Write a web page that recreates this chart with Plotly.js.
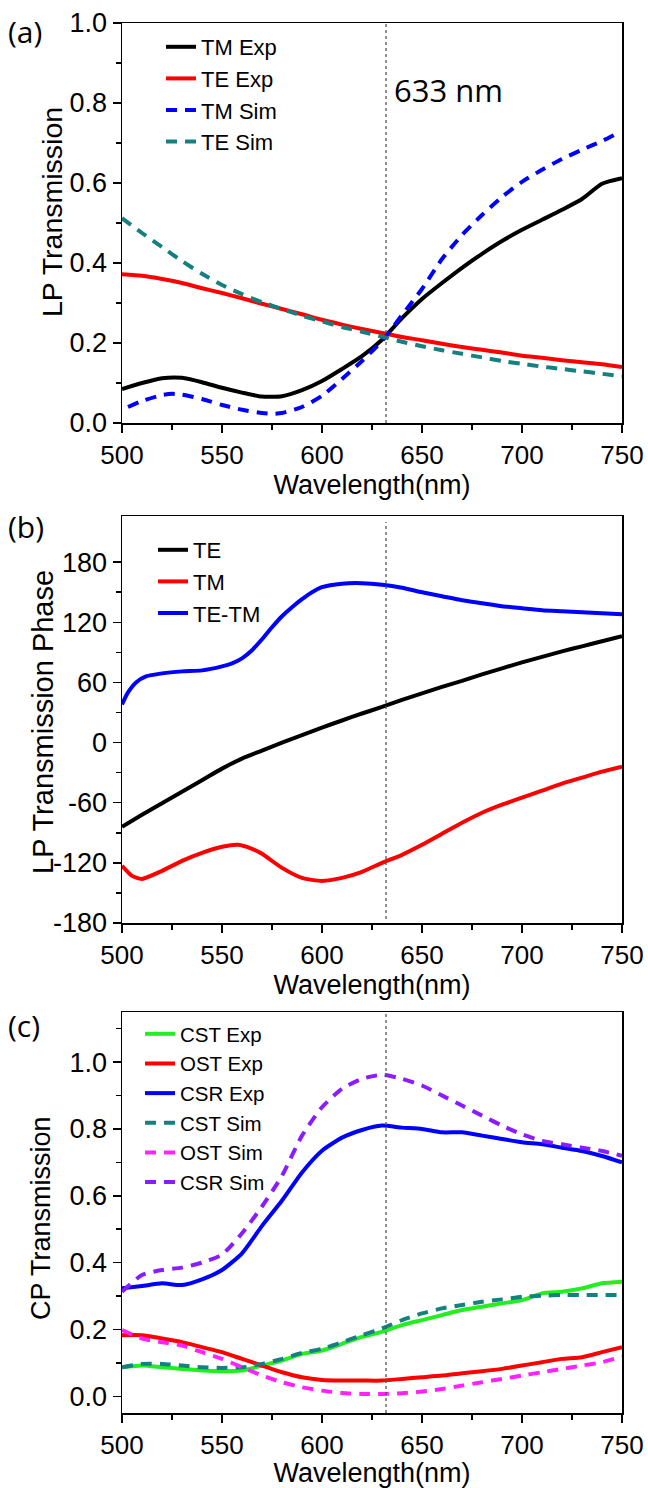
<!DOCTYPE html>
<html>
<head>
<meta charset="utf-8">
<script src="https://cdn.plot.ly/plotly-3.0.1.min.js"></script>
<style>
  html, body { margin: 0; padding: 0; background: #ffffff; }
  #chart { width: 648px; height: 1488px; }
</style>
</head>
<body>
<div id="chart"></div>
<script>
// ---------------- Panel (a): LP transmission ----------------
const wlA = [500, 510, 520, 530, 540, 550, 560, 570, 580, 590, 600, 610, 620, 630, 640, 650, 660, 670, 680, 690, 700, 710, 720, 730, 740, 750];
const tmExpA = [0.085, 0.100, 0.112, 0.113, 0.102, 0.088, 0.076, 0.066, 0.067, 0.082, 0.105, 0.135, 0.167, 0.208, 0.262, 0.310, 0.350, 0.388, 0.423, 0.455, 0.483, 0.508, 0.533, 0.560, 0.598, 0.612];
const teExpA = [0.372, 0.368, 0.360, 0.350, 0.337, 0.325, 0.312, 0.298, 0.285, 0.272, 0.258, 0.246, 0.235, 0.225, 0.215, 0.207, 0.198, 0.190, 0.183, 0.176, 0.168, 0.163, 0.157, 0.152, 0.147, 0.140];
const wlTmSimA = [503, 510, 520, 525, 530, 540, 550, 560, 570, 575, 580, 590, 600, 610, 620, 630, 640, 650, 660, 670, 680, 690, 700, 710, 720, 730, 740, 748];
const tmSimA = [0.040, 0.055, 0.070, 0.073, 0.071, 0.060, 0.045, 0.033, 0.025, 0.023, 0.025, 0.040, 0.068, 0.110, 0.155, 0.205, 0.270, 0.335, 0.410, 0.470, 0.520, 0.565, 0.603, 0.633, 0.660, 0.683, 0.705, 0.725];
const teSimA = [0.512, 0.475, 0.440, 0.405, 0.373, 0.345, 0.322, 0.302, 0.285, 0.268, 0.254, 0.240, 0.228, 0.216, 0.203, 0.192, 0.182, 0.173, 0.164, 0.155, 0.148, 0.141, 0.135, 0.129, 0.123, 0.117];

// ---------------- Panel (b): LP transmission phase ----------------
const wlB = [500, 510, 520, 530, 540, 550, 560, 570, 580, 590, 600, 610, 620, 630, 640, 650, 660, 670, 680, 690, 700, 710, 720, 730, 740, 750];
const tePhase = [-84, -72, -60.5, -49, -37.5, -26, -16, -8, 0, 7.5, 15, 22, 29, 35.5, 42.5, 49, 55.5, 61.5, 68, 74, 80, 85.5, 91, 96, 101, 106];
const wlTmB = [500, 505, 510, 520, 530, 540, 550, 558, 565, 570, 580, 590, 600, 610, 620, 630, 640, 650, 660, 670, 680, 690, 700, 710, 720, 730, 740, 750];
const tmPhase = [-123, -133, -136, -128, -118, -110, -104, -102, -106, -111, -125, -135, -138, -135, -129, -120, -112, -102, -91, -80, -70, -62, -55, -48, -41, -35, -29, -24];
const wlDiffB = [500, 503, 507, 512, 520, 530, 540, 550, 555, 560, 565, 570, 575, 580, 585, 590, 595, 600, 610, 620, 630, 640, 650, 660, 670, 680, 690, 700, 710, 720, 730, 740, 750];
const diffPhase = [38, 50, 60, 66, 69, 71, 72, 76, 79, 84, 92, 103, 115, 126, 135, 143, 150, 155, 158.5, 159, 157.5, 154.5, 150, 146, 142, 139, 136, 134, 132, 131, 130, 129, 128];
const phaseTickVals = [-180, -120, -60, 0, 60, 120, 180];
const phaseTickText = ['-180', '-120', '-60', '0', '60', '120', '180'];
const phaseMinorVals = [-150, -90, -30, 30, 90, 150];

// ---------------- Panel (c): CP transmission ----------------
const wlC = [500, 510, 520, 530, 540, 550, 560, 570, 580, 590, 600, 610, 620, 630, 640, 650, 660, 670, 680, 690, 700, 710, 720, 730, 740, 750];
const cstExp = [0.087, 0.092, 0.087, 0.082, 0.077, 0.075, 0.077, 0.092, 0.107, 0.127, 0.137, 0.157, 0.178, 0.193, 0.213, 0.228, 0.243, 0.258, 0.268, 0.278, 0.288, 0.308, 0.313, 0.323, 0.338, 0.343];
const ostExp = [0.183, 0.183, 0.173, 0.162, 0.147, 0.132, 0.112, 0.092, 0.072, 0.057, 0.049, 0.047, 0.047, 0.047, 0.052, 0.057, 0.062, 0.069, 0.075, 0.082, 0.092, 0.102, 0.112, 0.117, 0.132, 0.147];
const csrExp = [0.323, 0.330, 0.338, 0.333, 0.350, 0.378, 0.428, 0.510, 0.586, 0.670, 0.735, 0.774, 0.797, 0.810, 0.804, 0.800, 0.790, 0.790, 0.780, 0.770, 0.760, 0.754, 0.744, 0.734, 0.719, 0.700];
const cstSim = [0.087, 0.097, 0.097, 0.092, 0.087, 0.085, 0.087, 0.097, 0.112, 0.130, 0.142, 0.162, 0.183, 0.203, 0.228, 0.248, 0.263, 0.273, 0.283, 0.290, 0.298, 0.301, 0.303, 0.303, 0.303, 0.303];
const ostSim = [0.198, 0.173, 0.162, 0.152, 0.132, 0.112, 0.087, 0.062, 0.042, 0.027, 0.017, 0.010, 0.007, 0.007, 0.009, 0.014, 0.022, 0.032, 0.042, 0.052, 0.062, 0.072, 0.082, 0.092, 0.102, 0.119];
const csrSim = [0.313, 0.363, 0.378, 0.385, 0.400, 0.424, 0.488, 0.568, 0.660, 0.780, 0.865, 0.920, 0.950, 0.962, 0.950, 0.930, 0.900, 0.870, 0.840, 0.810, 0.784, 0.764, 0.754, 0.744, 0.734, 0.720];

const markerWavelength = 632;

// ---------------- styling ----------------
const FONT = '"Liberation Sans", Arial, sans-serif';
const LABEL_FONT = '"Open Sans", "Noto Sans", sans-serif';
const H = 1488, W = 648;
const px = v => v / W;
const py = v => 1 - v / H;

function line(x, y, name, color, dash, legend, xa, ya) {
  return {
    x: x, y: y, name: name, type: 'scatter', mode: 'lines',
    line: { color: color, width: 4, dash: dash || 'solid', shape: 'spline', smoothing: 0.6 },
    legend: legend, xaxis: xa, yaxis: ya, hoverinfo: 'skip'
  };
}
const DASH = '11px,8px';

const traces = [
  line(wlA, tmExpA, 'TM Exp', '#000000', 'solid', 'legend', 'x', 'y'),
  line(wlA, teExpA, 'TE Exp', '#ff0000', 'solid', 'legend', 'x', 'y'),
  line(wlTmSimA, tmSimA, 'TM Sim', '#0000ff', DASH, 'legend', 'x', 'y'),
  line(wlA, teSimA, 'TE Sim', '#15807f', DASH, 'legend', 'x', 'y'),

  line(wlB, tePhase, 'TE', '#000000', 'solid', 'legend2', 'x2', 'y2'),
  line(wlTmB, tmPhase, 'TM', '#ff0000', 'solid', 'legend2', 'x2', 'y2'),
  line(wlDiffB, diffPhase, 'TE-TM', '#0000ff', 'solid', 'legend2', 'x2', 'y2'),

  line(wlC, cstExp, 'CST Exp', '#22ee22', 'solid', 'legend3', 'x3', 'y3'),
  line(wlC, ostExp, 'OST Exp', '#ff0000', 'solid', 'legend3', 'x3', 'y3'),
  line(wlC, csrExp, 'CSR Exp', '#0000ff', 'solid', 'legend3', 'x3', 'y3'),
  line(wlC, cstSim, 'CST Sim', '#15807f', DASH, 'legend3', 'x3', 'y3'),
  line(wlC, ostSim, 'OST Sim', '#ff22ff', DASH, 'legend3', 'x3', 'y3'),
  line(wlC, csrSim, 'CSR Sim', '#8a1cff', DASH, 'legend3', 'x3', 'y3')
];

const xDomain = [px(122), px(622)];
function xAxis(anchor, standoff) {
  return {
    domain: xDomain, anchor: anchor, range: [500, 750],
    showline: true, linecolor: '#000', linewidth: 1.5, mirror: true,
    ticks: 'outside', ticklen: 8, tickwidth: 1.5, tickcolor: '#000',
    tickvals: [500, 550, 600, 650, 700, 750],
    tickfont: { family: FONT, size: 26, color: '#000' },
    minor: { ticks: 'outside', ticklen: 5, tickwidth: 1.5, tickcolor: '#000', dtick: 25, tick0: 500, showgrid: false },
    showgrid: false, zeroline: false, fixedrange: true,
    title: { text: 'Wavelength(nm)', font: { family: FONT, size: 27, color: '#000' }, standoff: standoff }
  };
}
function yAxis(anchor, dom, range, extra) {
  return Object.assign({
    domain: dom, anchor: anchor, range: range,
    showline: true, linecolor: '#000', linewidth: 1.5, mirror: true,
    ticks: 'outside', ticklen: 8, tickwidth: 1.5, tickcolor: '#000',
    tickfont: { family: FONT, size: 27, color: '#000' },
    showgrid: false, zeroline: false, fixedrange: true
  }, extra);
}
function yTitle(text, x, y, size) {
  return { text: text, xref: 'paper', yref: 'paper', x: px(x), y: py(y), xanchor: 'center', yanchor: 'middle',
           textangle: -90, showarrow: false, font: { family: FONT, size: size, color: '#000' } };
}
function panelLabel(text, y) {
  return { text: text, xref: 'paper', yref: 'paper', x: px(6), y: py(y), xanchor: 'left', yanchor: 'middle',
           showarrow: false, font: { family: LABEL_FONT, size: 30, color: '#000' } };
}
function legendBox(x, y, size) {
  return { x: px(x), y: py(y), xanchor: 'left', yanchor: 'top', bgcolor: 'rgba(0,0,0,0)', borderwidth: 0,
           font: { family: FONT, size: size, color: '#000' } };
}
const MINOR_Y = { ticks: 'outside', ticklen: 5, tickwidth: 1.5, tickcolor: '#000', dtick: 0.1, tick0: 0, showgrid: false };

const layout = {
  width: W, height: H,
  margin: { l: 0, r: 0, t: 0, b: 0 },
  paper_bgcolor: '#ffffff', plot_bgcolor: '#ffffff',
  font: { family: FONT, color: '#000' },
  showlegend: true,
  xaxis: xAxis('y', 6),
  xaxis2: xAxis('y2', 3),
  xaxis3: xAxis('y3', 3),
  yaxis: yAxis('x', [py(423), py(23)], [0, 1.0], {
    dtick: 0.2, tick0: 0, tickformat: '.1f', minor: MINOR_Y
  }),
  yaxis2: yAxis('x2', [py(923), py(516)], [-180, 226], {
    tickmode: 'array', tickvals: phaseTickVals, ticktext: phaseTickText,
    minor: { ticks: 'outside', ticklen: 5, tickwidth: 1.5, tickcolor: '#000', tickmode: 'array', tickvals: phaseMinorVals, showgrid: false }
  }),
  yaxis3: yAxis('x3', [py(1413), py(1012)], [-0.05, 1.15], {
    tickmode: 'array', tickvals: [0, 0.2, 0.4, 0.6, 0.8, 1.0], ticktext: ['0.0', '0.2', '0.4', '0.6', '0.8', '1.0'],
    minor: MINOR_Y
  }),
  legend: legendBox(161, 26, 22),
  legend2: legendBox(153, 529, 22),
  legend3: legendBox(140, 1014, 20.5),
  shapes: [
    { type: 'line', xref: 'x', yref: 'y domain', x0: markerWavelength, x1: markerWavelength, y0: 0, y1: 1, line: { color: '#555', width: 1.3, dash: 'dot' } },
    { type: 'line', xref: 'x2', yref: 'y2 domain', x0: markerWavelength, x1: markerWavelength, y0: 0.01, y1: 0.985, line: { color: '#555', width: 1.3, dash: 'dot' } },
    { type: 'line', xref: 'x3', yref: 'y3 domain', x0: markerWavelength, x1: markerWavelength, y0: 0, y1: 1, line: { color: '#555', width: 1.3, dash: 'dot' } }
  ],
  annotations: [
    panelLabel('(a)', 31),
    panelLabel('(b)', 526),
    panelLabel('(c)', 1025),
    { text: '633 nm', xref: 'paper', yref: 'paper', x: px(392), y: py(90), xanchor: 'left', yanchor: 'middle', showarrow: false, font: { family: LABEL_FONT, size: 31, color: '#000' } },
    yTitle('LP Transmission', 52, 212, 28.5),
    yTitle('LP Transmission Phase', 43, 722, 29),
    yTitle('CP Transmission', 41, 1218, 27)
  ]
};

Plotly.newPlot('chart', traces, layout, { staticPlot: true, displayModeBar: false });
</script>
</body>
</html>
